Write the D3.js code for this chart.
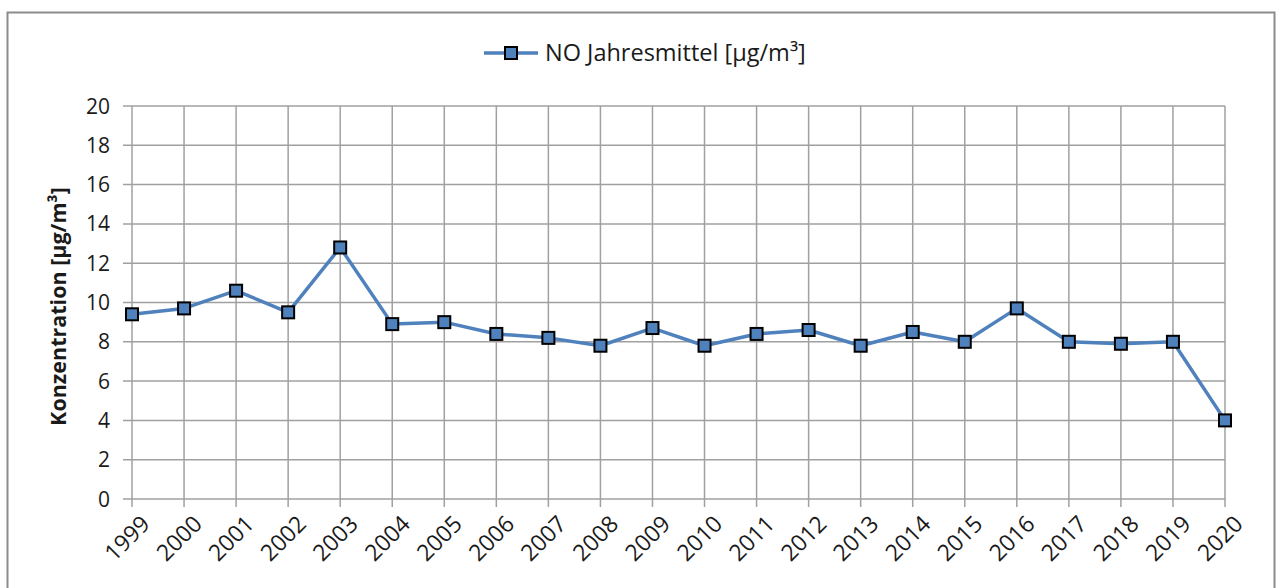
<!DOCTYPE html>
<html>
<head>
<meta charset="utf-8">
<script src="https://cdn.jsdelivr.net/npm/d3@7"></script>
<style>
  body { margin: 0; background: #fff; }
  svg { display: block; font-family: "Open Sans", "Noto Sans", sans-serif; }
</style>
</head>
<body>
<div id="chart"></div>
<script>
const width = 1277;
const height = 588;

const years = ["1999","2000","2001","2002","2003","2004","2005","2006","2007","2008","2009",
               "2010","2011","2012","2013","2014","2015","2016","2017","2018","2019","2020"];
const noValues = [9.4, 9.7, 10.6, 9.5, 12.8, 8.9, 9.0, 8.4, 8.2, 7.8, 8.7,
                  7.8, 8.4, 8.6, 7.8, 8.5, 8.0, 9.7, 8.0, 7.9, 8.0, 4.0];
const yTicks = [0, 2, 4, 6, 8, 10, 12, 14, 16, 18, 20];
const seriesName = "NO Jahresmittel [µg/m³]";
const yTitle = "Konzentration [µg/m³]";

const lineColor = "#4f81bd";
const gridColor = "#a0a0a0";
const textColor = "#1a1a1a";

const plot = { left: 132, right: 1225, top: 106, bottom: 499 };

const x = d3.scalePoint().domain(years).range([plot.left, plot.right]);
const y = d3.scaleLinear().domain([0, 20]).range([plot.bottom, plot.top]);

const svg = d3.select("#chart").append("svg")
    .attr("width", width)
    .attr("height", height);

// chart frame
svg.append("rect")
    .attr("x", 7.5).attr("y", 12.5)
    .attr("width", 1267).attr("height", 600)
    .attr("fill", "#fff")
    .attr("stroke", "#8c8c8c")
    .attr("stroke-width", 2);

// horizontal grid
svg.append("g")
    .selectAll("line")
    .data(yTicks)
    .join("line")
    .attr("x1", plot.left - 9).attr("x2", plot.right)
    .attr("y1", d => y(d)).attr("y2", d => y(d))
    .attr("stroke", gridColor)
    .attr("stroke-width", 1.5);

// vertical grid
svg.append("g")
    .selectAll("line")
    .data(years)
    .join("line")
    .attr("x1", d => x(d)).attr("x2", d => x(d))
    .attr("y1", plot.top).attr("y2", plot.bottom + 8)
    .attr("stroke", gridColor)
    .attr("stroke-width", 1.5);

// y tick labels
svg.append("g")
    .selectAll("text")
    .data(yTicks)
    .join("text")
    .attr("x", plot.left - 22)
    .attr("y", d => y(d))
    .attr("dy", "0.36em")
    .attr("text-anchor", "end")
    .attr("font-size", 21)
    .attr("fill", textColor)
    .text(d => d);

// x tick labels
svg.append("g")
    .selectAll("text")
    .data(years)
    .join("text")
    .attr("transform", d => `translate(${x(d) + 8},${plot.bottom + 15}) rotate(-45)`)
    .attr("text-anchor", "end")
    .attr("dy", "0.7em")
    .attr("font-size", 23)
    .attr("fill", textColor)
    .text(d => d);

// y title
svg.append("text")
    .attr("transform", `translate(66,${(plot.top + plot.bottom) / 2 + 4}) rotate(-90)`)
    .attr("text-anchor", "middle")
    .attr("font-size", 21.5)
    .attr("font-weight", "bold")
    .attr("fill", textColor)
    .text(yTitle);

// series line
const line = d3.line()
    .x((d, i) => x(years[i]))
    .y(d => y(d));

svg.append("path")
    .datum(noValues)
    .attr("d", line)
    .attr("fill", "none")
    .attr("stroke", lineColor)
    .attr("stroke-width", 3.5)
    .attr("stroke-linejoin", "round");

const ms = 12;
svg.append("g")
    .selectAll("rect")
    .data(noValues)
    .join("rect")
    .attr("x", (d, i) => x(years[i]) - ms / 2)
    .attr("y", d => y(d) - ms / 2)
    .attr("width", ms).attr("height", ms)
    .attr("fill", lineColor)
    .attr("stroke", "#000")
    .attr("stroke-width", 2);

// legend
const legend = svg.append("g").attr("transform", "translate(484,53)");
legend.append("line")
    .attr("x1", 0).attr("x2", 54)
    .attr("stroke", lineColor)
    .attr("stroke-width", 3.5);
legend.append("rect")
    .attr("x", 27 - ms / 2).attr("y", -ms / 2)
    .attr("width", ms).attr("height", ms)
    .attr("fill", lineColor)
    .attr("stroke", "#000")
    .attr("stroke-width", 2);
legend.append("text")
    .attr("x", 61)
    .attr("dy", "0.36em")
    .attr("font-size", 23.5)
    .attr("fill", textColor)
    .text(seriesName);
</script>
</body>
</html>
